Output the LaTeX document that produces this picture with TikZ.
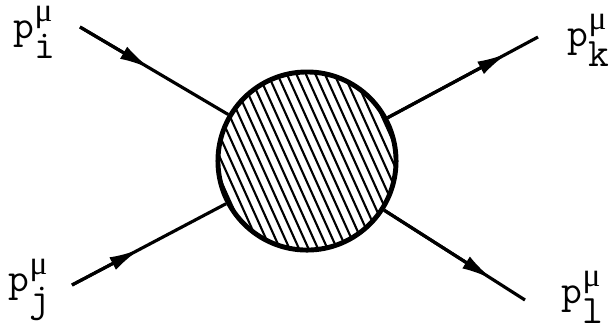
\documentclass[tikz,border=0pt]{standalone}
\usepackage{fontspec}
\newfontfamily\mufont{Liberation Serif}
\usetikzlibrary{arrows.meta,calc}

% momentum label p^mu_x in typewriter style
\newcommand{\pmom}[1]{p\rlap{\raisebox{-0.5em}{#1}}\raisebox{0.42em}{\mufont\fontsize{9.5}{10}\selectfont μ}}

\begin{document}
\begin{tikzpicture}[x=0.01cm,y=-0.01cm,>=Latex,
  leg/.style={line width=0.9pt},
  legarrow/.style={line width=0.9pt,-{Latex[length=3.1mm,width=1.4mm]}},
  hatchline/.style={line width=0.6pt},
  mom/.style={font=\ttfamily\fontsize{11.5}{13}\selectfont,anchor=base west,inner sep=0pt}]
\useasboundingbox (0,0) rectangle (609,335);

% blob
\node[circle,draw,line width=1.4pt,minimum size=1.78cm,inner sep=0pt] (blob) at (307,161) {};
\begin{scope}
\clip (blob.center) circle [radius=0.87cm];
\foreach \k in {-13,...,13}
  \draw[hatchline] (307+\k*9.5-50,50) -- (307+\k*9.5+50,272);
\end{scope}

% external legs
\coordinate (pi) at (80,27);
\coordinate (pj) at (72,285);
\coordinate (pk) at (538,37);
\coordinate (pl) at (525,300);
\draw[leg] (pi) -- (blob);
\draw[leg] (pj) -- (blob);
\draw[leg] (blob) -- (pk);
\draw[leg] (blob) -- (pl);
\draw[legarrow] (pi) -- ($(pi)!0.31!(blob.center)$);
\draw[legarrow] (pj) -- ($(pj)!0.29!(blob.center)$);
\draw[legarrow] (blob) -- ($(blob.center)!0.87!(pk)$);
\draw[legarrow] (blob) -- ($(blob.center)!0.85!(pl)$);

% labels
\node[mom] (li) at (13,38) {\pmom{i}};
\node[mom] (lk) at (567,46) {\pmom{k}};
\node[mom] (lj) at (8,291) {\pmom{j}};
\node[mom] (ll) at (561,303) {\pmom{l}};
\end{tikzpicture}
\end{document}
